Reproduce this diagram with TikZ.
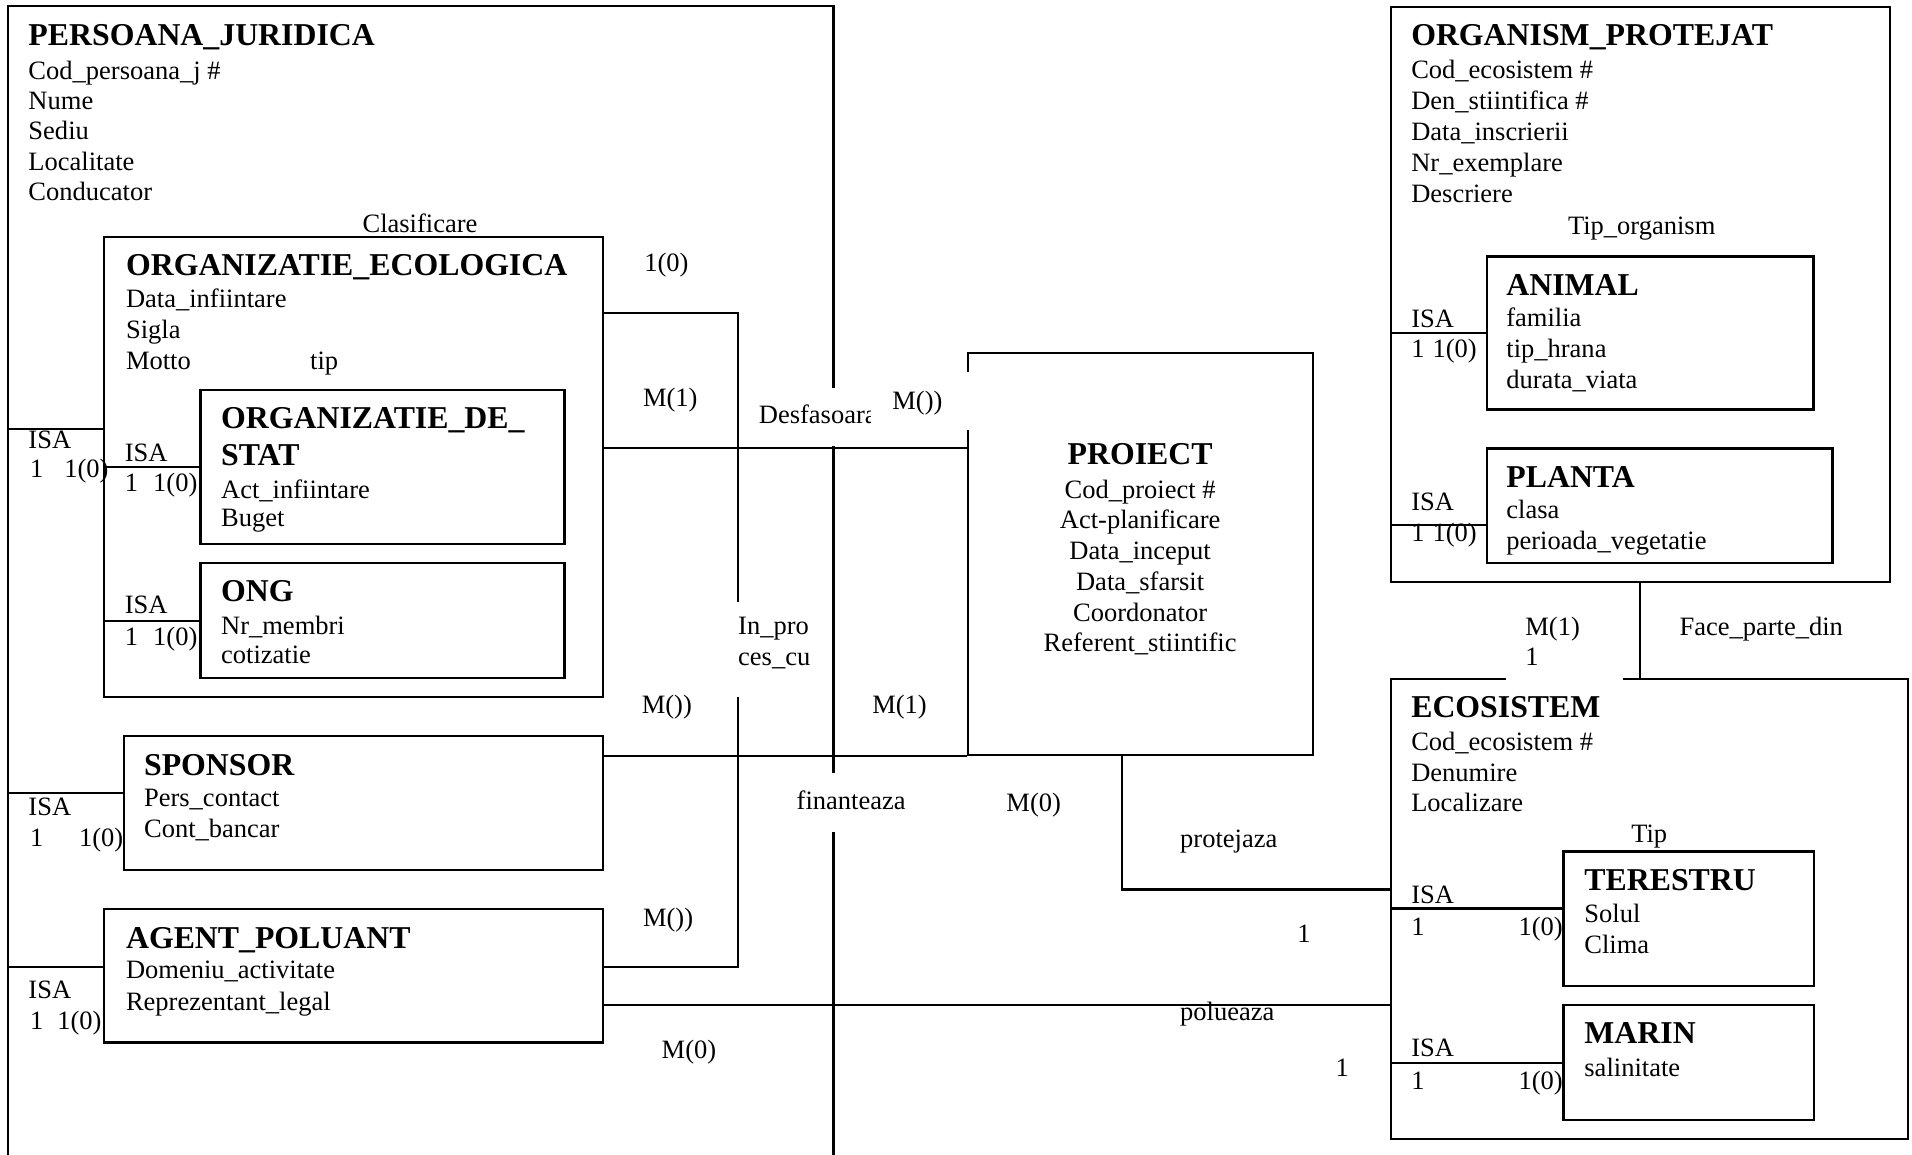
\documentclass[tikz,border=0pt]{standalone}
\usepackage{fontspec}
\setmainfont{Liberation Serif}
\usetikzlibrary{fit}
\begin{document}
\begin{tikzpicture}[x=0.552pt, y=-0.552pt,
  ebox/.style={draw, line width=1pt, inner sep=0pt},
  conn/.style={line width=1pt},
  cover/.style={fill=white, draw=none, inner sep=0pt},
  ttl/.style={font=\fontsize{14.4}{16}\selectfont\bfseries, anchor=base west, inner sep=0pt},
  atr/.style={font=\fontsize{12}{14}\selectfont, anchor=base west, inner sep=0pt},
  atc/.style={font=\fontsize{12}{14}\selectfont, anchor=base, inner sep=0pt},
  ttc/.style={font=\fontsize{14.4}{16}\selectfont\bfseries, anchor=base, inner sep=0pt}]
\useasboundingbox[fill=white] (0,0) rectangle (1568,947);

% ---------- entity boxes ----------
\node[ebox, fit={(6.7,4.9) (683.6,965)}] (pj) {};
\node[ebox, fit={(85.3,194.6) (494.7,571.8)}] (orgeco) {};
\node[ebox, fit={(164.5,320) (463,446)}] (orgstat) {};
\node[ebox, fit={(164.5,462) (463,556)}] (ong) {};
\node[ebox, fit={(102,603.6) (494.7,713.5)}] (sponsor) {};
\node[ebox, fit={(85.3,745.6) (494.7,855)}] (agent) {};
\node[ebox, fit={(794,289.4) (1077,619)}] (proiect) {};
\node[ebox, fit={(1140.6,5.6) (1550,477.5)}] (orgp) {};
\node[ebox, fit={(1219.3,210.3) (1487.2,335.8)}] (animal) {};
\node[ebox, fit={(1219.3,367.8) (1502.8,462)}] (planta) {};
\node[ebox, fit={(1140.8,556.7) (1564.6,933.8)}] (eco) {};
\node[ebox, fit={(1282.2,698.3) (1487.3,808.4)}] (terestru) {};
\node[ebox, fit={(1282.2,824) (1487.3,918.3)}] (marin) {};

% ---------- helper coordinates ----------
\coordinate (ipA) at (605,257);
\coordinate (ipB) at (605,792.8);
\coordinate (dsY) at (0,367.5);
\coordinate (prX) at (920,0);
\coordinate (prY) at (0,729.5);
\coordinate (plY) at (0,824);
\coordinate (fpX) at (1345,0);

% ---------- connectors ----------
\draw[conn] (orgeco.east |- ipA) -- (ipA) -- (ipB) -- (agent.east |- ipB);
\draw[conn] (orgeco.east |- dsY) -- (proiect.west |- dsY);
\draw[conn] (sponsor.east |- proiect.south) -- (proiect.south west);
\draw[conn] (proiect.south -| prX) |- (eco.west |- prY);
\draw[conn] (agent.east |- plY) -- (eco.west |- plY);
\draw[conn] (orgp.south -| fpX) -- (eco.north -| fpX);

% ISA links
\draw[conn] (pj.west |- 0,352) -- (orgeco.west |- 0,352);
\draw[conn] (orgeco.west |- 0,383) -- (orgstat.west |- 0,383);
\draw[conn] (orgeco.west |- 0,509) -- (ong.west |- 0,509);
\draw[conn] (pj.west |- 0,650.6) -- (sponsor.west |- 0,650.6);
\draw[conn] (pj.west |- 0,792.8) -- (agent.west |- 0,792.8);
\draw[conn] (orgp.west |- 0,273) -- (animal.west |- 0,273);
\draw[conn] (orgp.west |- 0,430.6) -- (planta.west |- 0,430.6);
\draw[conn] (eco.west |- 0,745) -- (terestru.west |- 0,745);
\draw[conn] (eco.west |- 0,871.7) -- (marin.west |- 0,871.7);

% ---------- label covers (gaps) ----------
\node[cover, fit={(606.5,318.5) (714,366)}] (cvdes) {};
\node[cover, fit={(600,494) (682,572)}] (cvinp) {};
\node[cover, fit={(650,634) (745,682)}] (cvfin) {};
\node[cover, fit={(1235,500) (1331,558)}] (cvfp) {};
\node[atr] (ldes) at (622,347) {Desfasoara};
\node[cover, fit={(714,305) (800,353)}] (cvmp) {};

% ---------- PERSOANA_JURIDICA ----------
\node[ttl] (pjt) at (23,37.7) {PERSOANA\_JURIDICA};
\node[atr] (pj1) at (23,65) {Cod\_persoana\_j \#};
\node[atr] (pj2) at (23,90.2) {Nume};
\node[atr] (pj3) at (23,114.8) {Sediu};
\node[atr] (pj4) at (23,140) {Localitate};
\node[atr] (pj5) at (23,164.8) {Conducator};
\node[atr] (clas) at (297,190.8) {Clasificare};

% ORGANIZATIE_ECOLOGICA
\node[ttl] (oet) at (103,226.3) {ORGANIZATIE\_ECOLOGICA};
\node[atr] (oe1) at (103,252) {Data\_infiintare};
\node[atr] (oe2) at (103,277.5) {Sigla};
\node[atr] (oe3) at (103,302.8) {Motto};
\node[atr] (tipa) at (254,302.8) {tip};

% ORGANIZATIE_DE_STAT
\node[ttl] (ost) at (181,351) {ORGANIZATIE\_DE\_};
\node[ttl] (ost2) at (181,382) {STAT};
\node[atr] (os1) at (181,408.5) {Act\_infiintare};
\node[atr] (os2) at (181,432) {Buget};

% ONG
\node[ttl] (ongt) at (181,493.4) {ONG};
\node[atr] (ong1) at (181,520) {Nr\_membri};
\node[atr] (ong2) at (181,544) {cotizatie};

% SPONSOR
\node[ttl] (spt) at (117.8,635.6) {SPONSOR};
\node[atr] (sp1) at (117.8,661.5) {Pers\_contact};
\node[atr] (sp2) at (117.8,686.5) {Cont\_bancar};

% AGENT_POLUANT
\node[ttl] (agt) at (103,777.6) {AGENT\_POLUANT};
\node[atr] (ag1) at (103,802.8) {Domeniu\_activitate};
\node[atr] (ag2) at (103,828.8) {Reprezentant\_legal};

% ISA labels left side
\node[atr] (i1) at (23,367.6) {ISA};
\node[atr] (i1a) at (24.4,392) {1};
\node[atr] (i1b) at (52.4,392) {1(0)};
\node[atr] (i2) at (102,378.6) {ISA};
\node[atr] (i2a) at (102,403) {1};
\node[atr] (i2b) at (125.3,403) {1(0)};
\node[atr] (i3) at (102,502.8) {ISA};
\node[atr] (i3a) at (102,529) {1};
\node[atr] (i3b) at (125.3,529) {1(0)};
\node[atr] (i4) at (23,669) {ISA};
\node[atr] (i4a) at (24.4,694) {1};
\node[atr] (i4b) at (64.5,694) {1(0)};
\node[atr] (i5) at (23,818.6) {ISA};
\node[atr] (i5a) at (24.4,844) {1};
\node[atr] (i5b) at (46.6,844) {1(0)};

% ---------- PROIECT ----------
\node[ttc] (prt) at (935,381.3) {PROIECT};
\node[atc] (pr1) at (935,408.7) {Cod\_proiect \#};
\node[atc] (pr2) at (935,433.5) {Act-planificare};
\node[atc] (pr3) at (935,459.2) {Data\_inceput};
\node[atc] (pr4) at (935,484) {Data\_sfarsit};
\node[atc] (pr5) at (935,509.5) {Coordonator};
\node[atc] (pr6) at (935,534.4) {Referent\_stiintific};

% ---------- relationship labels ----------
\node[atr] (r1) at (528,222.6) {1(0)};
\node[atr] (r2) at (527,333) {M(1)};
\node[atr] (r3) at (731.5,336) {M())};
\node[atr] (r4) at (605,520.7) {In\_pro};
\node[atr] (r5) at (605,546) {ces\_cu};
\node[atr] (r6) at (526,585.4) {M())};
\node[atr] (r7) at (715,585.4) {M(1)};
\node[atr] (r8) at (653,663.5) {finanteaza};
\node[atr] (r9) at (825,665.6) {M(0)};
\node[atr] (r10) at (967.5,694.8) {protejaza};
\node[atr] (r11) at (1063.5,773) {1};
\node[atr] (r12) at (527,759.4) {M())};
\node[atr] (r13) at (967.5,837.3) {polueaza};
\node[atr] (r14) at (542.3,867.8) {M(0)};
\node[atr] (r15) at (1095,883) {1};
\node[atr] (r16) at (1250.6,521) {M(1)};
\node[atr] (r17) at (1250.6,545.4) {1};
\node[atr] (r18) at (1377,521.5) {Face\_parte\_din};

% ---------- ORGANISM_PROTEJAT ----------
\node[ttl] (opt) at (1157,37.7) {ORGANISM\_PROTEJAT};
\node[atr] (op1) at (1157,64.5) {Cod\_ecosistem \#};
\node[atr] (op2) at (1157,90) {Den\_stiintifica \#};
\node[atr] (op3) at (1157,115.5) {Data\_inscrierii};
\node[atr] (op4) at (1157,141) {Nr\_exemplare};
\node[atr] (op5) at (1157,166.3) {Descriere};
\node[atr] (tipo) at (1285.6,192) {Tip\_organism};

\node[ttl] (ant) at (1235,242.3) {ANIMAL};
\node[atr] (an1) at (1235,267.4) {familia};
\node[atr] (an2) at (1235,293.4) {tip\_hrana};
\node[atr] (an3) at (1235,318.5) {durata\_viata};

\node[ttl] (plt) at (1235,400) {PLANTA};
\node[atr] (pl1) at (1235,425.3) {clasa};
\node[atr] (pl2) at (1235,450.3) {perioada\_vegetatie};

\node[atr] (i6) at (1157,268.3) {ISA};
\node[atr] (i6a) at (1157,293.4) {1};
\node[atr] (i6b) at (1174.5,293.4) {1(0)};
\node[atr] (i7) at (1157,419) {ISA};
\node[atr] (i7a) at (1157,444.1) {1};
\node[atr] (i7b) at (1174.5,444.1) {1(0)};

% ---------- ECOSISTEM ----------
\node[ttl] (ect) at (1157,588.4) {ECOSISTEM};
\node[atr] (ec1) at (1157,615.8) {Cod\_ecosistem \#};
\node[atr] (ec2) at (1157,641.3) {Denumire};
\node[atr] (ec3) at (1157,665.6) {Localizare};
\node[atr] (tipe) at (1337.4,691) {Tip};

\node[ttl] (tet) at (1299,730) {TERESTRU};
\node[atr] (te1) at (1299,756.4) {Solul};
\node[atr] (te2) at (1299,782) {Clima};

\node[ttl] (mat) at (1299,856) {MARIN};
\node[atr] (ma1) at (1299,882.6) {salinitate};

\node[atr] (i8) at (1157,741) {ISA};
\node[atr] (i8a) at (1157,766.8) {1};
\node[atr] (i8b) at (1245,766.8) {1(0)};
\node[atr] (i9) at (1157,866.8) {ISA};
\node[atr] (i9a) at (1157,893.4) {1};
\node[atr] (i9b) at (1245,893.4) {1(0)};
\end{tikzpicture}
\end{document}
